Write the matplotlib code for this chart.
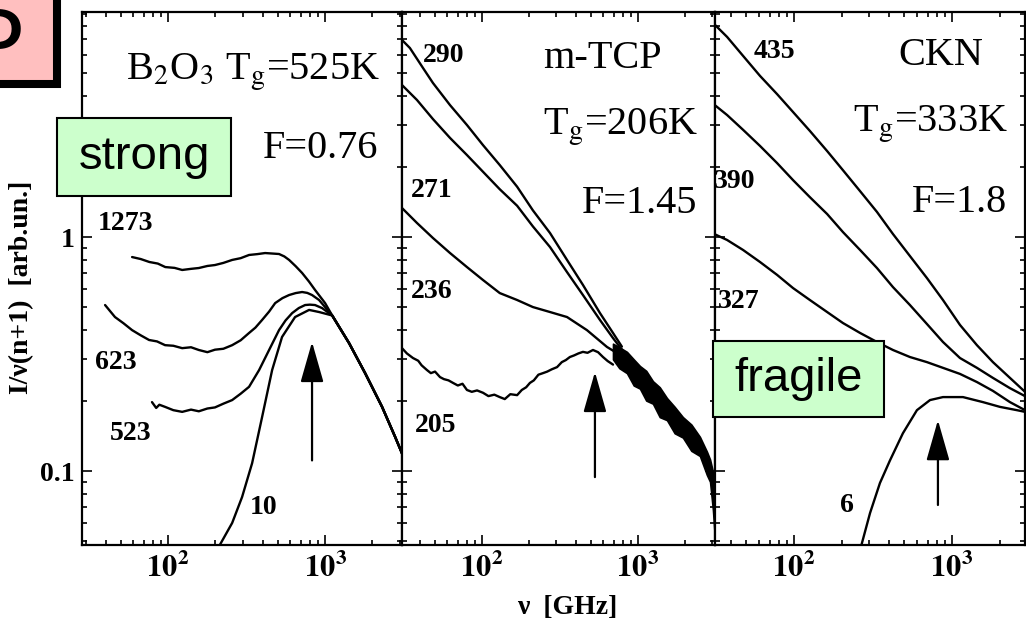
import matplotlib
matplotlib.use("Agg")
import matplotlib.pyplot as plt
from matplotlib.patches import Rectangle
from matplotlib.ticker import LogLocator, NullFormatter

plt.rcParams['font.family'] = ['Liberation Serif', 'DejaVu Serif']
plt.rcParams['mathtext.fontset'] = 'stix'

# ---------------- data (nu in GHz, intensity in arb. units) ----------------
# B2O3, Tg = 525 K
b2o3_tail_nu = [1110, 1422, 1799, 2307, 2793, 3090, 3300]
b2o3_tail_I = [0.462, 0.352, 0.262, 0.188, 0.140, 0.119, 0.106]
b2o3_1273_nu = [59, 67, 76, 86, 96, 110, 123, 140, 157, 178, 199, 225, 256, 290, 328, 370, 415, 460, 509, 550, 590, 650, 714, 790, 863, 1000]
b2o3_1273_I = [0.821, 0.805, 0.782, 0.770, 0.744, 0.738, 0.723, 0.731, 0.737, 0.752, 0.759, 0.775, 0.798, 0.812, 0.838, 0.845, 0.854, 0.850, 0.846, 0.826, 0.798, 0.750, 0.702, 0.645, 0.594, 0.522]
b2o3_623_nu = [39.7, 45.9, 52, 59, 67, 75.7, 85, 95.7, 108, 123, 140, 157, 178, 199, 225, 256, 290, 328, 360, 397, 440, 481, 535, 590, 650, 714, 770, 826, 916]
b2o3_623_I = [0.512, 0.455, 0.428, 0.400, 0.380, 0.363, 0.358, 0.345, 0.343, 0.335, 0.338, 0.329, 0.322, 0.330, 0.333, 0.345, 0.362, 0.389, 0.410, 0.442, 0.480, 0.522, 0.548, 0.565, 0.576, 0.582, 0.577, 0.565, 0.538]
b2o3_523_nu = [79, 84, 88, 95.7, 108, 123, 140, 157, 178, 199, 225, 256, 290, 328, 380, 440, 509, 560, 617, 680, 746, 800, 863, 957]
b2o3_523_I = [0.197, 0.186, 0.192, 0.188, 0.182, 0.179, 0.183, 0.180, 0.185, 0.187, 0.194, 0.201, 0.214, 0.229, 0.270, 0.329, 0.400, 0.440, 0.473, 0.497, 0.512, 0.514, 0.512, 0.497]
b2o3_10_nu = [205, 256, 296, 343, 397, 460, 532, 644, 791, 916]
b2o3_10_I = [0.046, 0.060, 0.0774, 0.108, 0.170, 0.270, 0.374, 0.455, 0.488, 0.478]
b2o3_arrow_nu, b2o3_arrow_I = 826, (0.111, 0.356)

# m-TCP, Tg = 206 K
mtcp_290_nu = [30.7, 34.5, 41.9, 48.5, 62.4, 80.1, 101.5, 130, 168, 212, 273, 351, 444, 571, 692, 789]
mtcp_290_I = [6.95, 6.42, 5.27, 4.55, 3.66, 3.01, 2.47, 2.03, 1.64, 1.30, 1.04, 0.798, 0.624, 0.473, 0.389, 0.340]
mtcp_271_nu = [30.7, 38.3, 48.5, 62.4, 80.1, 101.5, 130, 168, 212, 273, 351, 444, 571, 692, 789]
mtcp_271_I = [4.46, 3.85, 3.19, 2.65, 2.24, 1.90, 1.60, 1.36, 1.11, 0.906, 0.708, 0.565, 0.442, 0.370, 0.330]
mtcp_236_nu = [30.7, 38.3, 48.5, 62.4, 80.1, 101.5, 130, 168, 212, 273, 351, 471, 633, 789]
mtcp_236_I = [1.33, 1.148, 0.990, 0.854, 0.744, 0.655, 0.576, 0.538, 0.502, 0.478, 0.455, 0.400, 0.339, 0.310]
mtcp_205_nu = [30.7, 33, 36.1, 39, 41, 44.4, 47, 50, 53.8, 57, 61, 65.2, 70, 75, 80.1, 86, 93, 101.5, 110, 120, 130, 140, 152, 168, 180, 192, 203, 215, 230, 246, 262, 280, 303, 325, 345, 366, 390, 415, 444, 475, 515, 555, 597, 640, 692]
mtcp_205_I = [0.335, 0.318, 0.304, 0.296, 0.283, 0.270, 0.262, 0.266, 0.252, 0.247, 0.244, 0.238, 0.232, 0.236, 0.222, 0.218, 0.221, 0.216, 0.209, 0.212, 0.207, 0.203, 0.213, 0.211, 0.222, 0.228, 0.238, 0.244, 0.258, 0.262, 0.266, 0.272, 0.278, 0.292, 0.298, 0.307, 0.312, 0.318, 0.323, 0.320, 0.329, 0.322, 0.307, 0.295, 0.285]
mtcp_band_nu = [692, 760, 850, 940, 1030, 1130, 1248, 1380, 1535, 1720, 1942, 2200, 2496, 2768, 2900, 3027, 3162]
mtcp_band_hi = [0.350, 0.338, 0.323, 0.300, 0.281, 0.268, 0.242, 0.228, 0.205, 0.188, 0.170, 0.158, 0.140, 0.121, 0.112, 0.0991, 0.0751]
mtcp_band_lo = [0.300, 0.275, 0.262, 0.232, 0.225, 0.200, 0.194, 0.170, 0.165, 0.145, 0.139, 0.122, 0.116, 0.0962, 0.090, 0.0681, 0.045]
mtcp_arrow_nu, mtcp_arrow_I = 530, (0.0942, 0.265)

# CKN, Tg = 333 K
ckn_nu = [30.3, 37.7, 47.6, 60.9, 78.1, 98.6, 126, 162, 204, 262, 335, 423, 542, 694, 877, 1124, 1439, 1817, 2329, 2900]
ckn_435_I = [8.29, 7.16, 5.94, 4.88, 4.08, 3.42, 2.84, 2.33, 1.93, 1.57, 1.28, 1.03, 0.829, 0.668, 0.538, 0.421, 0.345, 0.292, 0.250, 0.218]
ckn_390_I = [3.74, 3.32, 2.87, 2.45, 2.07, 1.75, 1.48, 1.254, 1.05, 0.880, 0.737, 0.611, 0.512, 0.425, 0.356, 0.304, 0.276, 0.250, 0.226, 0.209]
ckn_327_I = [1.04, 0.971, 0.880, 0.782, 0.689, 0.605, 0.538, 0.478, 0.429, 0.389, 0.356, 0.329, 0.307, 0.292, 0.276, 0.260, 0.240, 0.220, 0.197, 0.182]
ckn_6_nu = [262, 303, 350, 405, 489, 600, 726, 877, 1174, 1571, 2012, 2577, 2900]
ckn_6_I = [0.046, 0.0662, 0.0889, 0.111, 0.145, 0.182, 0.201, 0.207, 0.207, 0.197, 0.188, 0.182, 0.179]
ckn_arrow_nu, ckn_arrow_I = 815, (0.0716, 0.165)

xtick_vals = [100, 1000]
xtick_labels = [r'$\mathbf{10^{2}}$', r'$\mathbf{10^{3}}$']
ytick_vals = [0.1, 1]
ytick_labels = ['0.1', '1']

# ---------------- figure ----------------
W, H = 1026, 632
fig = plt.figure(figsize=(W / 100, H / 100), dpi=100)
fig.patch.set_facecolor('white')


def fx(x):
    return x / W


def fy(y):
    return 1 - y / H


TOP, BOT = 12, 545
panel_px = [(82, 402, (28.3, 3090)), (402, 715, (30.7, 3120)), (715, 1025, (31.6, 2900))]
YLIM = (0.0483, 9.15)

axes = []
for i, (L, R, xl) in enumerate(panel_px):
    ax = fig.add_axes([fx(L), fy(BOT), (R - L) / W, (BOT - TOP) / H])
    ax.set_xscale('log')
    ax.set_yscale('log')
    ax.set_xlim(*xl)
    ax.set_ylim(*YLIM)
    ax.set_xticks(xtick_vals)
    ax.set_xticklabels(xtick_labels)
    ax.xaxis.set_minor_locator(LogLocator(base=10, subs=range(2, 10), numticks=20))
    ax.xaxis.set_minor_formatter(NullFormatter())
    ax.set_yticks(ytick_vals)
    ax.yaxis.set_minor_locator(LogLocator(base=10, subs=range(2, 10), numticks=20))
    ax.yaxis.set_minor_formatter(NullFormatter())
    if i == 0:
        ax.set_yticklabels(ytick_labels, fontweight='bold', fontsize=20)
    else:
        ax.set_yticklabels([])
    ax.tick_params(which='both', direction='in', top=True, right=True, width=1.2)
    ax.tick_params(which='major', length=7)
    ax.tick_params(which='minor', length=3.5)
    ax.tick_params(axis='x', labelsize=22, pad=6)
    ax.tick_params(axis='y', pad=5)
    for s in ax.spines.values():
        s.set_linewidth(1.6)
    axes.append(ax)

LW = 1.7
kw = dict(color='black', lw=LW, solid_joinstyle='round', solid_capstyle='round')

# B2O3
ax = axes[0]
for nu, I in [(b2o3_1273_nu, b2o3_1273_I), (b2o3_623_nu, b2o3_623_I),
              (b2o3_523_nu, b2o3_523_I), (b2o3_10_nu, b2o3_10_I)]:
    ax.plot(list(nu) + b2o3_tail_nu, list(I) + b2o3_tail_I, **kw)

# m-TCP
ax = axes[1]
for nu, I in [(mtcp_290_nu, mtcp_290_I), (mtcp_271_nu, mtcp_271_I),
              (mtcp_236_nu, mtcp_236_I), (mtcp_205_nu, mtcp_205_I)]:
    ax.plot(nu, I, **kw)
ax.fill_between(mtcp_band_nu, mtcp_band_lo, mtcp_band_hi, color='black', lw=1.2)

# CKN
ax = axes[2]
for I in [ckn_435_I, ckn_390_I, ckn_327_I]:
    ax.plot(ckn_nu, I, **kw)
ax.plot(ckn_6_nu, ckn_6_I, **kw)

# arrows
for ax, anu, (a0, a1) in [(axes[0], b2o3_arrow_nu, b2o3_arrow_I),
                          (axes[1], mtcp_arrow_nu, mtcp_arrow_I),
                          (axes[2], ckn_arrow_nu, ckn_arrow_I)]:
    ax.annotate('', xy=(anu, a1), xytext=(anu, a0),
                arrowprops=dict(arrowstyle='-|>,head_length=0.7,head_width=0.2',
                                mutation_scale=36, lw=1.6, color='black',
                                shrinkA=0, shrinkB=0))

# curve labels
curve_labels = [("1273", 126, 223), ("623", 116, 362), ("523", 131, 434), ("10", 264, 508),
                ("290", 444, 55), ("271", 432, 190), ("236", 432, 292), ("205", 436, 425),
                ("435", 774, 52), ("390", 735, 181), ("327", 739, 301), ("6", 847, 506)]
for t, x, y in curve_labels:
    fig.text(fx(x), fy(y), t, ha='center', va='center', fontsize=20, fontweight='bold')

# panel titles
TS = 29
fig.text(fx(380), fy(80), r'B$_{2}$O$_{3}$ T$_{\mathrm{g}}$=525K', ha='right', va='baseline', fontsize=TS)
fig.text(fx(378), fy(158), 'F=0.76', ha='right', va='baseline', fontsize=TS)
fig.text(fx(543), fy(68), 'm-TCP', ha='left', va='baseline', fontsize=TS)
fig.text(fx(543), fy(135), r'T$_{\mathrm{g}}$=206K', ha='left', va='baseline', fontsize=TS)
fig.text(fx(697), fy(213), 'F=1.45', ha='right', va='baseline', fontsize=TS)
fig.text(fx(983), fy(65), 'CKN', ha='right', va='baseline', fontsize=TS)
fig.text(fx(1008), fy(132), r'T$_{\mathrm{g}}$=333K', ha='right', va='baseline', fontsize=TS)
fig.text(fx(1007), fy(212), 'F=1.8', ha='right', va='baseline', fontsize=TS)

# axis labels
fig.text(fx(567), fy(607), 'ν  [GHz]', ha='center', va='center', fontsize=20, fontweight='bold')
fig.text(fx(22), fy(287), 'I/ν(n+1)  [arb.un.]', ha='center', va='center', rotation=90,
         fontsize=20, fontweight='bold')


# annotation boxes
def label_box(x0, y0, x1, y1, txt):
    rect = Rectangle((fx(x0), fy(y1)), (x1 - x0) / W, (y1 - y0) / H, transform=fig.transFigure,
                     facecolor='#CCFFCC', edgecolor='black', lw=1.5, zorder=20)
    fig.add_artist(rect)
    fig.text(fx((x0 + x1) / 2), fy((y0 + y1) / 2), txt, ha='center', va='center',
             family='Liberation Sans', fontsize=34, zorder=21)


label_box(57, 118, 231, 196, 'strong')
label_box(713, 341, 884, 417, 'fragile')

# pink corner tag (cut by the image edge, as in the reference)
pink = Rectangle((fx(-30), fy(84)), 87 / W, 114 / H, transform=fig.transFigure,
                 facecolor='#FFBFBF', edgecolor='black', lw=5.8, zorder=20, clip_on=False)
fig.add_artist(pink)
fig.text(fx(-39), fy(75), 'P', ha='left', va='baseline', family='Liberation Sans',
         fontsize=70, zorder=21)

fig.savefig('out.png', dpi=100, facecolor='white')
